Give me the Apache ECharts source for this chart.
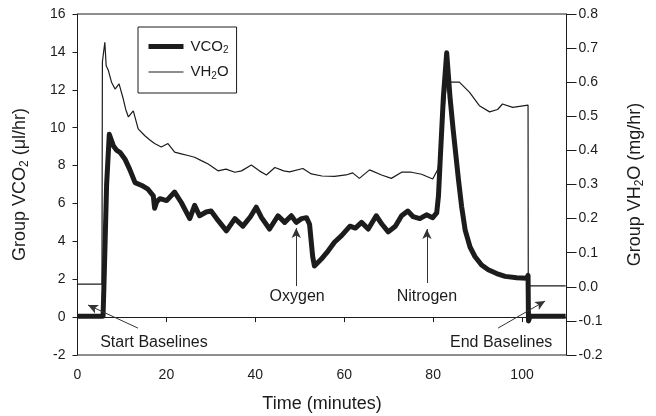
<!DOCTYPE html>
<html>
<head>
<meta charset="utf-8">
<script src="https://cdn.jsdelivr.net/npm/echarts@6/dist/echarts.min.js"></script>
<style>
  html, body { margin: 0; padding: 0; background: #fff; }
  #chart { width: 656px; height: 416px; }
</style>
</head>
<body>
<div id="chart"></div>
<script>
// time in minutes
var tVco2 = [0, 5.75, 6.05, 6.55, 7.15, 8.05, 8.85, 9.55, 10.65, 11.75, 12.95, 14.45, 15.85, 17.05, 17.35, 17.85,
  18.55, 20.05, 21.85, 23.35, 25.25, 26.35, 27.45, 28.95, 30.05, 31.3, 33.5, 35.4, 37.2, 38.9, 40.2, 41.4,
  43.2, 45.1, 46.6, 48.1, 49.2, 50.4, 51.5, 52.2, 52.9, 53.3, 54.8, 56.4, 57.8, 59.4, 61.3, 62.5, 63.9,
  65.4, 67.2, 68.5, 69.9, 71.5, 72.9, 74.3, 75.5, 77.0, 78.5, 79.9, 80.8, 81.2, 81.55, 82.3, 83.05, 83.8,
  84.5, 85.7, 86.4, 87.2, 88.3, 89.4, 90.9, 92.4, 94.3, 96.2, 98.8, 101.1, 101.35, 101.45, 101.8, 109.8];
// group VCO2 (ul/hr)
var vco2 = [0.05, 0.05, 2.5, 7.0, 9.65, 9.05, 8.8, 8.7, 8.35, 7.8, 7.1, 6.95, 6.75, 6.4, 5.75, 6.1,
  6.25, 6.15, 6.6, 6.05, 5.2, 5.9, 5.35, 5.55, 5.6, 5.2, 4.55, 5.2, 4.8, 5.3, 5.8, 5.25,
  4.65, 5.35, 5.0, 5.35, 5.0, 5.2, 5.25, 4.9, 3.2, 2.7, 3.05, 3.5, 3.95, 4.3, 4.8, 4.7, 5.0,
  4.65, 5.35, 4.9, 4.5, 4.8, 5.35, 5.6, 5.3, 5.2, 5.4, 5.25, 5.5, 6.4, 8.1, 11.6, 13.95, 11.6,
  9.9, 7.25, 5.85, 4.6, 3.7, 3.2, 2.75, 2.5, 2.3, 2.15, 2.08, 2.05, 2.2, -0.2, 0.05, 0.05];

var tVh2o = [0, 5.5, 5.6, 6.15, 6.45, 6.95, 7.65, 8.45, 9.35, 10.25, 10.85, 11.45, 12.55, 13.65, 15.15, 16.35,
  17.35, 18.85, 20.35, 21.85, 23.35, 24.85, 26.35, 27.85, 29.4, 31.6, 33.4, 35.4, 36.9, 39.1, 40.9, 42.5,
  44.4, 46.4, 47.7, 50.7, 52.6, 55.0, 57.8, 60.4, 61.9, 63.4, 65.7, 68.4, 70.6, 72.9, 75.1, 77.4, 79.9,
  81.1, 82.0, 83.0, 85.9, 88.2, 90.4, 92.7, 94.5, 95.6, 97.9, 101.35, 101.4, 109.8];
// group VH2O (mg/hr)
var vh2o = [0.008, 0.008, 0.66, 0.717, 0.648, 0.634, 0.6, 0.58, 0.595, 0.553, 0.52, 0.498, 0.516, 0.463, 0.443, 0.43,
  0.42, 0.41, 0.42, 0.395, 0.39, 0.385, 0.38, 0.37, 0.36, 0.34, 0.345, 0.336, 0.34, 0.357, 0.34, 0.328,
  0.35, 0.34, 0.337, 0.347, 0.331, 0.325, 0.324, 0.328, 0.334, 0.318, 0.343, 0.328, 0.318, 0.336, 0.336, 0.33, 0.316,
  0.345, 0.45, 0.6, 0.6, 0.57, 0.531, 0.513, 0.52, 0.536, 0.526, 0.533, 0.003, 0.003];

// annotations: [label, text x, text y, arrow from x, from y, arrow to x, to y] in data units
var notes = [
  ['Start Baselines', 17.2, -1.35, 13.6, -0.58, 2.36, 0.64],
  ['Oxygen', 49.4, 1.06, 49.2, 1.64, 49.2, 4.7],
  ['Nitrogen', 78.6, 1.06, 78.6, 1.8, 78.6, 4.65],
  ['End Baselines', 95.3, -1.35, 94.6, -0.58, 105.2, 0.85]
];

var ink = '#1c1c1c';
var font = "'Liberation Sans', Arial, sans-serif";

function pairs(xs, ys) {
  return xs.map(function (x, i) { return [x, ys[i]]; });
}

var chart = echarts.init(document.getElementById('chart'));

var subRich = {
  m: { fontSize: 18, fontFamily: font, color: ink },
  s: { fontSize: 12, fontFamily: font, color: ink, padding: [9, 0, 0, 0] }
};

chart.setOption({
  animation: false,
  textStyle: { fontFamily: font, color: ink },
  grid: { left: 77.5, right: 89.5, top: 14, bottom: 61, outerBoundsMode: 'none',
    show: true, borderColor: ink, borderWidth: 1 },
  legend: {
    left: 138, top: 27, orient: 'vertical',
    borderColor: ink, borderWidth: 1, borderRadius: 0,
    padding: [12, 8, 12, 8], itemGap: 9, itemWidth: 35, itemHeight: 14,
    itemStyle: { color: 'rgba(0,0,0,0)', borderWidth: 0, opacity: 0 },
    data: [
      { name: 'VCO2', lineStyle: { width: 5, color: ink } },
      { name: 'VH2O', lineStyle: { width: 1.2, color: ink } }
    ],
    formatter: function (name) {
      return name === 'VCO2' ? '{m|VCO}{s|2}' : '{m|VH}{s|2}{m|O}';
    },
    textStyle: {
      padding: [0, 0, 0, 2],
      rich: {
        m: { fontSize: 15, fontFamily: font, color: ink },
        s: { fontSize: 10, fontFamily: font, color: ink, padding: [8, 0, 0, 0] }
      }
    }
  },
  xAxis: {
    type: 'value', min: 0, max: 110, interval: 20,
    name: 'Time (minutes)', nameLocation: 'middle', nameGap: 40,
    nameTextStyle: { fontSize: 18, color: ink },
    axisLine: { lineStyle: { color: ink, width: 1 } },
    axisTick: { length: 5, lineStyle: { color: ink } },
    axisLabel: { fontSize: 14, color: ink, margin: 13,
      formatter: function (v) { return v > 100 ? '' : v; } },
    splitLine: { show: false }
  },
  yAxis: [
    {
      type: 'value', min: -2, max: 16, interval: 2,
      name: '{m|Group VCO}{s|2}{m| (μl/hr)}', nameLocation: 'middle', nameGap: 47,
      nameTextStyle: { rich: subRich },
      axisLine: { show: true, lineStyle: { color: ink, width: 1 } },
      axisTick: { show: true, length: 5, lineStyle: { color: ink } },
      axisLabel: { fontSize: 14, color: ink, margin: 12 },
      splitLine: { show: false }
    },
    {
      type: 'value', min: -0.2, max: 0.8, interval: 0.1, position: 'right',
      name: '{m|Group VH}{s|2}{m|O (mg/hr)}', nameLocation: 'middle', nameGap: 58, nameRotate: 90,
      nameTextStyle: { rich: subRich },
      axisLine: { show: true, lineStyle: { color: ink, width: 1 } },
      axisTick: { show: true, length: 10, lineStyle: { color: ink } },
      axisLabel: { fontSize: 14, color: ink, margin: 12,
        formatter: function (v) { return v.toFixed(1); } },
      splitLine: { show: false }
    }
  ],
  series: [
    {
      name: 'VH2O', type: 'line', yAxisIndex: 1, symbol: 'none',
      lineStyle: { width: 1.2, color: ink }, itemStyle: { color: ink },
      data: pairs(tVh2o, vh2o), z: 2
    },
    {
      name: 'VCO2', type: 'line', yAxisIndex: 0, symbol: 'none',
      lineStyle: { width: 5, color: ink, join: 'round' }, itemStyle: { color: ink },
      data: pairs(tVco2, vco2), z: 3,
      markLine: {
        silent: true, symbol: ['none', 'arrow'], symbolSize: [7, 10],
        lineStyle: { color: '#333', width: 1, type: 'solid' },
        label: { show: false },
        data: notes.map(function (n) {
          return [{ coord: [n[3], n[4]] }, { coord: [n[5], n[6]] }];
        })
      },
      markPoint: {
        silent: true, symbol: 'rect', symbolSize: 1,
        itemStyle: { color: 'rgba(0,0,0,0)' },
        label: { show: true, position: 'inside', fontSize: 16, color: ink, fontFamily: font },
        data: notes.map(function (n) {
          return { coord: [n[1], n[2]], value: n[0], label: { formatter: n[0] } };
        })
      }
    }
  ]
});
</script>
</body>
</html>
